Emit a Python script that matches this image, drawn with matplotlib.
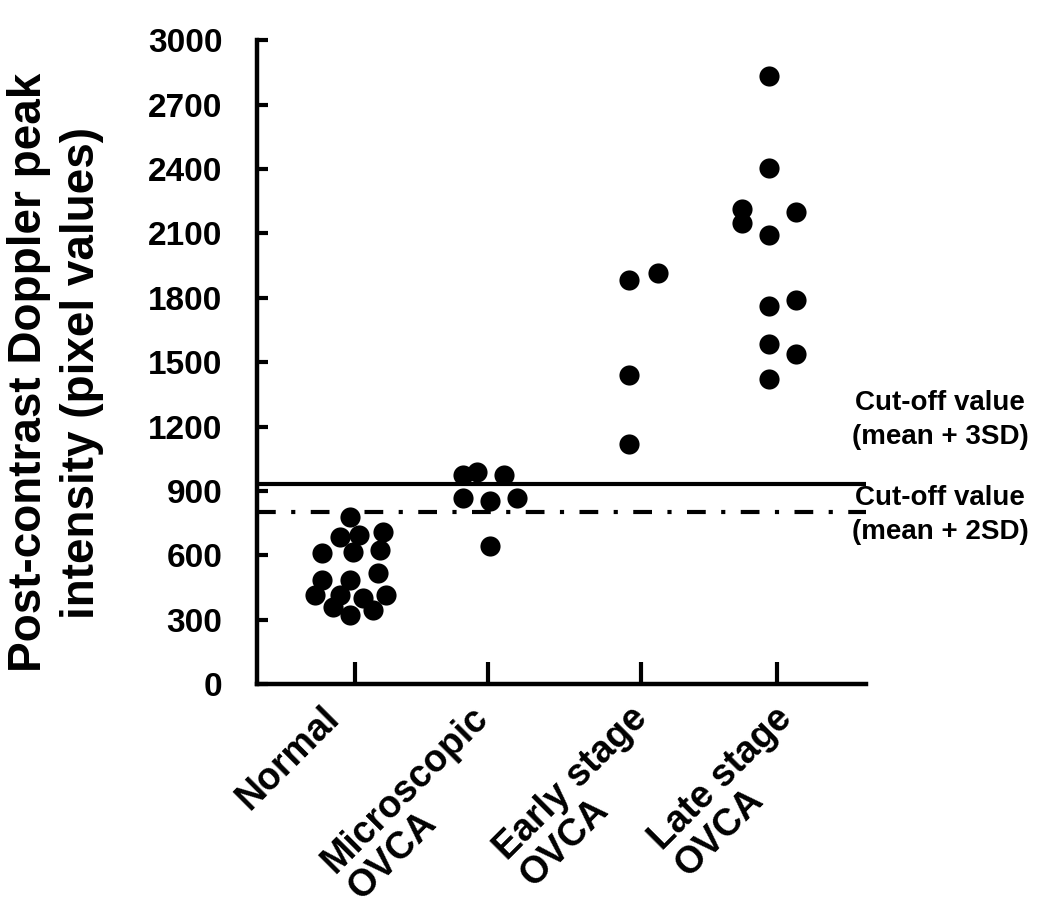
import numpy as np
import matplotlib
matplotlib.use("Agg")
import matplotlib.pyplot as plt

plt.rcParams['font.family'] = ['Liberation Sans', 'DejaVu Sans']
plt.rcParams['font.weight'] = 'bold'

# groups
categories = ["Normal", "Microscopic\nOVCA", "Early stage\nOVCA", "Late stage\nOVCA"]
cat_pos = [1, 1.95, 3.03, 4]
label_shift = [-0.234, -0.128, -0.085, -0.028]

# peak intensity values
normal_vals = [778, 708, 685, 694, 610, 615, 624, 517, 484, 484,
               414, 414, 358, 321, 345, 414, 400]
normal_jit = [-0.03, 0.20, -0.10, 0.03, -0.23, -0.01, 0.18, 0.17, -0.23, -0.03,
              -0.28, 0.22, -0.15, -0.03, 0.13, -0.10, 0.06]

micro_vals = [975, 990, 975, 865, 855, 865, 645]
micro_jit = [-0.18, -0.08, 0.11, -0.18, 0.01, 0.20, 0.01]

early_vals = [1885, 1915, 1440, 1118]
early_jit = [-0.08, 0.12, -0.08, -0.08]

late_vals = [2835, 2405, 2215, 2150, 2200, 2095, 1790, 1760, 1585, 1540, 1420]
late_jit = [-0.06, -0.06, -0.25, -0.25, 0.13, -0.06, 0.13, -0.06, -0.06, 0.13, -0.06]

cutoff_3sd = 932
cutoff_2sd = 800

groups = [(normal_vals, normal_jit), (micro_vals, micro_jit),
          (early_vals, early_jit), (late_vals, late_jit)]

fig = plt.figure(figsize=(10.5, 9.17), dpi=100)
ax = fig.add_axes([0.245, 0.254, 0.58, 0.702])

for pos, (vals, jit) in zip(cat_pos, groups):
    xs = np.array(jit) + pos
    ax.plot(xs, vals, 'o', color='black', ms=14.5, markeredgewidth=0, zorder=3)

ax.axhline(cutoff_3sd, color='black', lw=3, zorder=2)
ax.axhline(cutoff_2sd, color='black', lw=3, linestyle=(0, (4.5, 3.7, 1, 3.7)), zorder=2)

ax.set_xlim(0.31, 4.63)
ax.set_ylim(0, 3000)
ax.set_yticks(np.arange(0, 3001, 300))
ax.set_xticks(cat_pos)
ax.set_xticklabels([])
# category labels, rotated
for pos, sh, name in zip(cat_pos, label_shift, categories):
    ax.text(pos + sh, -0.025, name, transform=ax.get_xaxis_transform(),
            rotation=45, ha='right', va='top', rotation_mode='anchor',
            multialignment='left', fontsize=27, fontweight='bold', linespacing=1.05)

for lab in ax.get_yticklabels():
    lab.set_fontsize(24)
    lab.set_fontweight('bold')

ax.tick_params(axis='y', direction='in', length=8, width=3, pad=25)
ax.tick_params(axis='x', direction='in', length=16, width=3)

for s in ['top', 'right']:
    ax.spines[s].set_visible(False)
for s in ['left', 'bottom']:
    ax.spines[s].set_linewidth(3.2)

ax.set_ylabel("Post-contrast Doppler peak\nintensity (pixel values)", fontsize=33,
              fontweight='bold', linespacing=1.25)
ax.yaxis.set_label_coords(-0.252, 0.484)

ax.text(1.121, 0.41, "Cut-off value\n(mean + 3SD)", transform=ax.transAxes,
        ha='center', va='center', fontsize=20, fontweight='bold', linespacing=1.4)
ax.text(1.121, 0.262, "Cut-off value\n(mean + 2SD)", transform=ax.transAxes,
        ha='center', va='center', fontsize=20, fontweight='bold', linespacing=1.4)

fig.savefig("out.png", dpi=100)
